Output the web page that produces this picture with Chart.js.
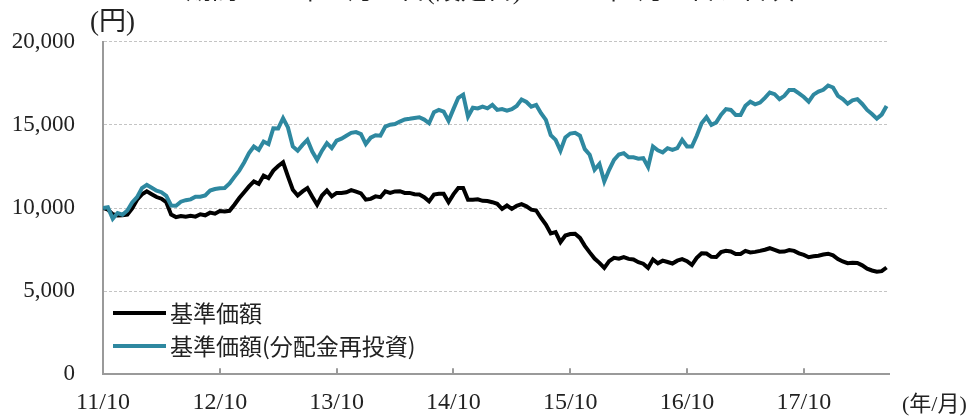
<!DOCTYPE html>
<html>
<head>
<meta charset="utf-8">
<script src="https://cdn.jsdelivr.net/npm/chart.js@4/dist/chart.umd.min.js"></script>
<style>
  body { margin: 0; background: #fff; }
  canvas { display: block; }
</style>
</head>
<body>
<canvas id="chart" width="970" height="416"></canvas>
<script>
// 半月ごとの読み取り値 (11/10 起点)
const tickLabels = ["11/10", "12/10", "13/10", "14/10", "15/10", "16/10", "17/10"];
const tickMonths = [0, 12, 24, 36, 48, 60, 72];
const yTicks = [0, 5000, 10000, 15000, 20000];

const nav = [
  10000, 9900, 9620, 9550, 9560, 9600, 9980, 10500, 10820, 11000, 10830,
  10660, 10560, 10350, 9600, 9450, 9520, 9480, 9530, 9480, 9620,
  9560, 9720, 9660, 9820, 9790, 9830, 10200, 10600, 10950, 11300,
  11600, 11450, 11950, 11800, 12250, 12530, 12750, 11900, 11100, 10750,
  11000, 11200, 10680, 10200, 10750, 11050, 10700, 10910, 10910, 10950,
  11080, 10990, 10880, 10500, 10550, 10700, 10650, 11000, 10910, 11000,
  11010, 10910, 10910, 10830, 10810, 10650, 10400, 10810, 10850, 10850,
  10350, 10820, 11200, 11200, 10500, 10500, 10520, 10430, 10420, 10350,
  10250, 9950, 10150, 9950, 10130, 10230, 10100, 9900, 9850, 9400,
  9000, 8470, 8550, 7950, 8340, 8430, 8450, 8200, 7720, 7330,
  6960, 6700, 6400, 6800, 7000, 6950, 7050, 6940, 6900, 6740,
  6650, 6400, 6900, 6670, 6830, 6750, 6660, 6830, 6920, 6800,
  6580, 7000, 7280, 7260, 7060, 7050, 7350, 7420, 7380, 7230,
  7230, 7420, 7330, 7360, 7420, 7490, 7580, 7480, 7370, 7380,
  7470, 7420, 7270, 7180, 7040, 7100, 7130, 7200, 7250, 7150,
  6930, 6780, 6680, 6700, 6690, 6550, 6350, 6240, 6170, 6200, 6420
];

const navReinvest = [
  10000, 10050, 9350, 9700, 9600, 9850, 10330, 10650, 11200, 11390, 11220,
  11040, 10950, 10730, 10150, 10140, 10380, 10470, 10520, 10680, 10680,
  10760, 11050, 11140, 11190, 11200, 11480, 11870, 12250, 12740, 13300,
  13700, 13500, 14000, 13850, 14800, 14790, 15400, 14850, 13700, 13450,
  13800, 14100, 13400, 12900, 13450, 13900, 13600, 14050, 14170, 14350,
  14520, 14570, 14450, 13850, 14230, 14380, 14350, 14900, 15010, 15050,
  15200, 15330, 15370, 15420, 15460, 15320, 15100, 15760, 15900, 15800,
  15250, 15950, 16630, 16820, 15500, 16030, 15990, 16100, 16000, 16200,
  15900, 15950, 15860, 15950, 16140, 16530, 16380, 16100, 16200, 15700,
  15300, 14380, 14100, 13450, 14250, 14480, 14520, 14350, 13540, 13200,
  12300, 12650, 11600, 12300, 12900, 13220, 13300, 13050, 13050, 12970,
  13000, 12470, 13700, 13470, 13350, 13600, 13500, 13600, 14100, 13700,
  13700, 14350, 15100, 15460, 15000, 15150, 15620, 15950, 15900, 15600,
  15600, 16150, 16400, 16240, 16340, 16630, 16950, 16850, 16550, 16750,
  17100, 17100, 16900, 16680, 16400, 16820, 17000, 17110, 17370, 17250,
  16750, 16550, 16280, 16480, 16550, 16260, 15900, 15660, 15380, 15620, 16140
];

const FONT = "'Liberation Serif', 'Noto Sans CJK JP', serif";
const CJK = "'Noto Sans CJK JP', 'Liberation Serif', sans-serif";
const TEAL = "#2e88a0";
const AXIS = "#9a9a9a";

const toPoints = arr => arr.map((v, i) => ({ x: i / 2, y: v }));

/* 凡例・タイトル・目盛りなど */
const extras = {
  id: "extras",
  afterDraw(chart) {
    const ctx = chart.ctx;
    const a = chart.chartArea;
    const xs = chart.scales.x;
    ctx.save();

    // 内向きの目盛り
    ctx.strokeStyle = AXIS;
    ctx.lineWidth = 2;
    tickMonths.slice(1).forEach(m => {
      const px = Math.round(xs.getPixelForValue(m));
      ctx.beginPath();
      ctx.moveTo(px, a.bottom);
      ctx.lineTo(px, a.bottom - 6);
      ctx.stroke();
    });

    ctx.fillStyle = "#222";
    ctx.textBaseline = "middle";

    // 単位
    ctx.textAlign = "left";
    ctx.font = "27px " + FONT;
    ctx.fillText("(円)", 90, 23);
    ctx.font = "22px " + FONT;
    ctx.fillText("(年/月)", 902, 405);

    // 上端で切れたタイトル
    ctx.textAlign = "center";
    ctx.textBaseline = "bottom";
    ctx.font = "26px " + FONT;
    ctx.fillText("期間:2011年10月27日(設定日)～2018年7月20日、日次", 490, 5);

    // 凡例
    ctx.textAlign = "left";
    ctx.textBaseline = "middle";
    ctx.font = "23px " + CJK;
    const items = [
      { label: chart.data.datasets[0].label, color: chart.data.datasets[0].borderColor, y: 313 },
      { label: chart.data.datasets[1].label, color: chart.data.datasets[1].borderColor, y: 346 }
    ];
    items.forEach(it => {
      ctx.strokeStyle = it.color;
      ctx.lineWidth = 4;
      ctx.beginPath();
      ctx.moveTo(113, it.y);
      ctx.lineTo(166, it.y);
      ctx.stroke();
      ctx.fillStyle = "#222";
      ctx.fillText(it.label, 170, it.y);
    });

    ctx.restore();
  }
};

new Chart(document.getElementById("chart"), {
  type: "line",
  data: {
    datasets: [
      { label: "基準価額", data: toPoints(nav), borderColor: "#000", borderWidth: 4, pointRadius: 0, tension: 0, order: 1 },
      { label: "基準価額(分配金再投資)", data: toPoints(navReinvest), borderColor: TEAL, borderWidth: 4, pointRadius: 0, tension: 0, order: 0 }
    ]
  },
  options: {
    responsive: false,
    animation: false,
    devicePixelRatio: 1,
    layout: { padding: { left: 0, right: 81, top: 37, bottom: 0 } },
    plugins: { legend: { display: false }, tooltip: { enabled: false } },
    scales: {
      x: {
        type: "linear",
        min: 0,
        max: 80.75,
        afterBuildTicks: s => { s.ticks = tickMonths.map(v => ({ value: v })); },
        afterFit: s => { s.height = 35; },
        grid: { color: "transparent", drawTicks: false },
        border: { color: AXIS, width: 2 },
        ticks: {
          padding: 14,
          maxRotation: 0,
          autoSkip: false,
          color: "#222",
          font: { family: FONT, size: 24 },
          callback: v => tickLabels[tickMonths.indexOf(v)] ?? ""
        }
      },
      y: {
        min: 0,
        max: 20000,
        afterBuildTicks: s => { s.ticks = yTicks.map(v => ({ value: v })); },
        afterFit: s => { s.width = 103; },
        grid: { color: "#c4c4c4", lineWidth: 1, drawTicks: false },
        border: { color: AXIS, width: 2, dash: [3, 2] },
        ticks: {
          padding: 28,
          color: "#222",
          font: { family: FONT, size: 23 },
          callback: v => v.toLocaleString("en-US")
        }
      }
    }
  },
  plugins: [extras]
});
</script>
</body>
</html>
